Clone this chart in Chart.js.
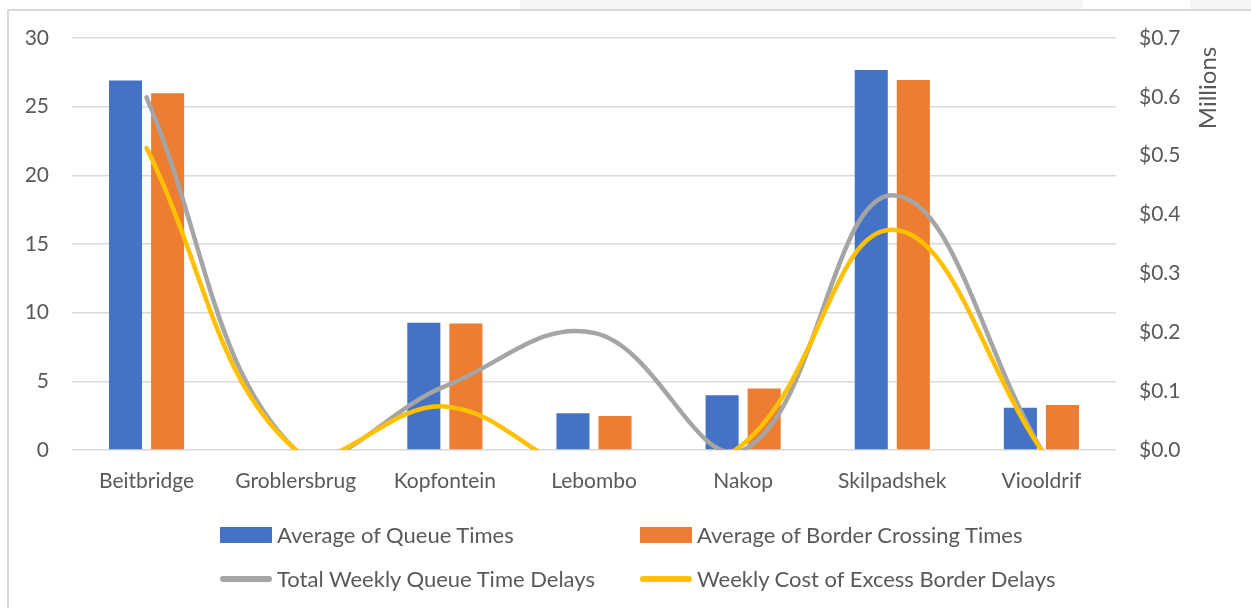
<!DOCTYPE html>
<html>
<head>
<meta charset="utf-8">
<script src="https://cdn.jsdelivr.net/npm/chart.js@4/dist/chart.umd.min.js"></script>
<style>
  html, body { margin: 0; padding: 0; background: #fff; }
  body { width: 1251px; height: 608px; position: relative; overflow: hidden; font-family: Lato, "Liberation Sans", sans-serif; }
  .strip { position: absolute; top: 0; height: 9px; background: #f5f5f5; }
  .frame { position: absolute; left: 7px; top: 9px; width: 1400px; height: 700px; border-left: 2px solid #d9d9d9; border-top: 2px solid #d9d9d9; }
  #wrap { position: absolute; left: 0; top: 0; width: 1251px; height: 608px; }
  #legend { position: absolute; left: 0; top: 0; width: 1251px; height: 608px; pointer-events: none; }
  .item { position: absolute; display: flex; align-items: center; color: #595959; font-size: 22px; white-space: nowrap; }
  .swatch { width: 52px; height: 16px; margin-right: 5px; }
  .swatch.line { height: 6px; border-radius: 3px; }
</style>
</head>
<body>
<div class="strip" style="left:520px;width:563px"></div>
<div class="strip" style="left:1190px;width:61px"></div>
<div class="frame"></div>
<div id="wrap"><canvas id="chart" width="1251" height="608"></canvas></div>
<div id="legend"></div>
<script>
const crossings = ["Beitbridge", "Groblersbrug", "Kopfontein", "Lebombo", "Nakop", "Skilpadshek", "Viooldrif"];
const queueTimes = [26.9, 0, 9.27, 2.67, 3.98, 27.67, 3.08];
const borderTimes = [25.97, 0, 9.22, 2.48, 4.47, 26.94, 3.28];
// right axis, millions of dollars
const weeklyQueueDelays = [0.599, 0, 0.108, 0.199, 0, 0.433, 0];
const weeklyCostDelays = [0.513, 0, 0.074, -0.04, 0.01, 0.374, 0];

const textColor = "#595959";
const gridColor = "#d9d9d9";
const font = { family: "Lato", size: 21 };

const millionsTitle = {
  id: "millionsTitle",
  afterDraw(chart) {
    const ctx = chart.ctx;
    ctx.save();
    ctx.translate(1208, 88);
    ctx.rotate(-Math.PI / 2);
    ctx.fillStyle = textColor;
    ctx.font = "24px Lato";
    ctx.textAlign = "center";
    ctx.textBaseline = "middle";
    ctx.fillText("Millions", 0, 0);
    ctx.restore();
  }
};

const chart = new Chart(document.getElementById("chart"), {
  data: {
    labels: crossings,
    datasets: [
      {
        type: "line",
        label: "Total Weekly Queue Time Delays",
        data: weeklyQueueDelays,
        yAxisID: "y1",
        borderColor: "#a5a5a5",
        backgroundColor: "#a5a5a5",
        borderWidth: 4.5,
        tension: 0.4,
        pointRadius: 0,
        order: 1
      },
      {
        type: "line",
        label: "Weekly Cost of Excess Border Delays",
        data: weeklyCostDelays,
        yAxisID: "y1",
        borderColor: "#ffc000",
        backgroundColor: "#ffc000",
        borderWidth: 4.5,
        tension: 0.4,
        pointRadius: 0,
        order: 0
      },
      {
        type: "bar",
        label: "Average of Queue Times",
        data: queueTimes,
        yAxisID: "y",
        backgroundColor: "#4472c4",
        categoryPercentage: 0.564,
        barPercentage: 0.786,
        order: 2
      },
      {
        type: "bar",
        label: "Average of Border Crossing Times",
        data: borderTimes,
        yAxisID: "y",
        backgroundColor: "#ed7d31",
        categoryPercentage: 0.564,
        barPercentage: 0.786,
        order: 3
      }
    ]
  },
  options: {
    responsive: false,
    animation: false,
    layout: { padding: { top: 38, left: 0, right: 0, bottom: 0 } },
    elements: { line: { capBezierPoints: false, borderCapStyle: "round" } },
    scales: {
      x: {
        grid: { display: false },
        border: { display: false },
        ticks: { color: textColor, font, padding: 11, maxRotation: 0 },
        afterFit(scale) { scale.height = 158; }
      },
      y: {
        position: "left",
        min: 0,
        max: 30,
        ticks: { stepSize: 5, color: textColor, font, padding: 23 },
        grid: { color: gridColor, lineWidth: 1.5, drawTicks: false },
        border: { display: false },
        afterFit(scale) { scale.width = 72; }
      },
      y1: {
        position: "right",
        min: 0,
        max: 0.7,
        ticks: {
          stepSize: 0.1,
          color: textColor,
          font,
          padding: 23,
          callback: v => "$" + v.toFixed(1)
        },
        grid: { display: false, drawTicks: false },
        border: { display: false },
        afterFit(scale) { scale.width = 135; }
      }
    },
    plugins: {
      legend: { display: false },
      tooltip: { enabled: false }
    }
  },
  plugins: [millionsTitle]
});

// legend in two columns, as in the original
const legendEl = document.getElementById("legend");
const slots = {
  "Average of Queue Times": [220, 535],
  "Average of Border Crossing Times": [640, 535],
  "Total Weekly Queue Time Delays": [220, 579],
  "Weekly Cost of Excess Border Delays": [640, 579]
};
["Average of Queue Times", "Average of Border Crossing Times",
 "Total Weekly Queue Time Delays", "Weekly Cost of Excess Border Delays"].forEach(label => {
  const ds = chart.data.datasets.find(d => d.label === label);
  const pos = slots[label];
  const item = document.createElement("div");
  item.className = "item";
  item.style.left = pos[0] + "px";
  item.style.top = (pos[1] - 14) + "px";
  const sw = document.createElement("span");
  sw.className = "swatch" + (ds.type === "line" ? " line" : "");
  sw.style.background = ds.type === "line" ? ds.borderColor : ds.backgroundColor;
  item.appendChild(sw);
  item.appendChild(document.createTextNode(ds.label));
  legendEl.appendChild(item);
});
</script>
</body>
</html>
